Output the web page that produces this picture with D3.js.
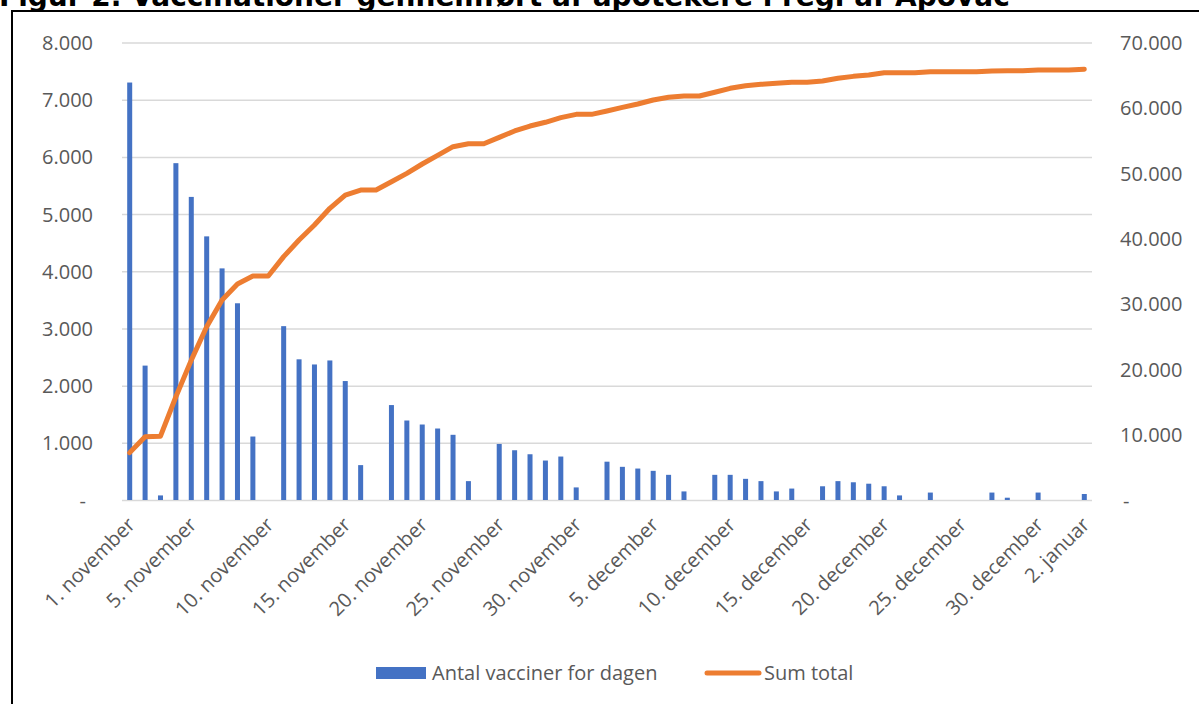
<!DOCTYPE html>
<html>
<head>
<meta charset="utf-8">
<script src="https://cdn.jsdelivr.net/npm/d3@7"></script>
<style>
  body { margin: 0; background: #fff; }
  svg { display: block; }
  .tick text { font-family: "Open Sans", sans-serif; fill: #595959; }
</style>
</head>
<body>
<svg id="chart" width="1199" height="704"></svg>
<script>
// one entry per day, 1. november to 2. januar
const days = [
  "1. november", "2. november", "3. november", "4. november", "5. november",
  "6. november", "7. november", "8. november", "9. november", "10. november",
  "11. november", "12. november", "13. november", "14. november", "15. november",
  "16. november", "17. november", "18. november", "19. november", "20. november",
  "21. november", "22. november", "23. november", "24. november", "25. november",
  "26. november", "27. november", "28. november", "29. november", "30. november",
  "1. december", "2. december", "3. december", "4. december", "5. december",
  "6. december", "7. december", "8. december", "9. december", "10. december",
  "11. december", "12. december", "13. december", "14. december", "15. december",
  "16. december", "17. december", "18. december", "19. december", "20. december",
  "21. december", "22. december", "23. december", "24. december", "25. december",
  "26. december", "27. december", "28. december", "29. december", "30. december",
  "31. december", "1. januar", "2. januar"
];

const tickLabels = [
  "1. november", "5. november", "10. november", "15. november", "20. november",
  "25. november", "30. november", "5. december", "10. december", "15. december",
  "20. december", "25. december", "30. december", "2. januar"
];

// Antal vacciner for dagen (left axis)
const dailyVaccines = [
  7300, 2350, 80, 5890, 5300, 4610, 4050, 3440, 1110, 0,
  3040, 2460, 2370, 2440, 2080, 610, 0, 1660, 1390, 1320,
  1250, 1140, 330, 0, 980, 870, 800, 690, 760, 220,
  0, 670, 580, 550, 510, 440, 150, 0, 440, 440,
  370, 330, 150, 200, 0, 240, 330, 310, 285, 240,
  80, 0, 130, 0, 0, 0, 130, 40, 0, 130,
  0, 0, 105
];

// Sum total (right axis)
const sumTotal = [
  7250, 9690, 9770, 15800, 21400, 26500, 30600, 33050, 34270, 34270,
  37230, 39780, 42070, 44630, 46660, 47430, 47430, 48700, 49980, 51410,
  52740, 54060, 54500, 54500, 55490, 56460, 57220, 57790, 58500, 59010,
  59010, 59520, 60080, 60590, 61200, 61610, 61810, 61810, 62380, 62990,
  63390, 63600, 63750, 63910, 63910, 64110, 64520, 64820, 65020, 65380,
  65380, 65380, 65510, 65510, 65510, 65510, 65640, 65680, 65680, 65810,
  65810, 65810, 65920
];

const leftTicks = [0, 1000, 2000, 3000, 4000, 5000, 6000, 7000, 8000];
const rightTicks = [0, 10000, 20000, 30000, 40000, 50000, 60000, 70000];

const seriesNames = ["Antal vacciner for dagen", "Sum total"];
const colors = ["#4472C4", "#ED7D31"];

const svg = d3.select("#chart");
const plot = { left: 122, right: 1092, top: 42.5, bottom: 500 };

// title, cut at the top edge like the source image
const title = svg.append("text")
  .attr("x", -1)
  .attr("y", 6)
  .attr("font-family", "DejaVu Sans, Verdana, sans-serif")
  .attr("font-weight", "bold")
  .attr("font-size", 22)
  .attr("fill", "#000")
  .text("Figur 2. Vaccinationer gennemført af apotekere i regi af Apovac");
// grow the font until the title spans the same width as the source
const tw = title.node().getComputedTextLength();
title.attr("font-size", 22 * 1011 / tw);

svg.append("path")
  .attr("d", "M12,706 L12,11 L1201,11")
  .attr("fill", "none")
  .attr("stroke", "#000")
  .attr("stroke-width", 2);

const x = d3.scaleBand()
  .domain(days)
  .range([plot.left, plot.right])
  .paddingInner(0.675)
  .paddingOuter(0.3375);

const yLeft = d3.scaleLinear().domain([0, 8000]).range([plot.bottom, plot.top]);
const yRight = d3.scaleLinear().domain([0, 70000]).range([plot.bottom, plot.top]);

const fmt = d => d === 0 ? "-" : d3.format(",")(d).replace(/,/g, ".");

// gridlines
svg.append("g")
  .attr("transform", `translate(${plot.left},0)`)
  .call(d3.axisLeft(yLeft).tickValues(leftTicks).tickSize(-(plot.right - plot.left)).tickFormat(""))
  .call(g => g.select(".domain").remove())
  .call(g => g.selectAll("line").attr("stroke", "#D9D9D9").attr("stroke-width", 1.5));

// left labels
const leftAxis = svg.append("g")
  .attr("transform", `translate(93,0)`)
  .call(d3.axisLeft(yLeft).tickValues(leftTicks).tickSize(0).tickPadding(0).tickFormat(fmt))
  .call(g => g.select(".domain").remove());
leftAxis.selectAll("text").attr("font-size", 20).attr("dy", "0.35em");
leftAxis.selectAll(".tick").filter(d => d === 0).select("text").attr("x", -7);

// right labels
const rightAxis = svg.append("g")
  .attr("transform", `translate(1120,0)`)
  .call(d3.axisRight(yRight).tickValues(rightTicks).tickSize(0).tickPadding(0).tickFormat(fmt))
  .call(g => g.select(".domain").remove());
rightAxis.selectAll("text").attr("font-size", 20).attr("dy", "0.35em");
rightAxis.selectAll(".tick").filter(d => d === 0).select("text").attr("x", 3);

// bars
svg.append("g")
  .selectAll("rect")
  .data(dailyVaccines)
  .join("rect")
  .attr("x", (d, i) => x(days[i]))
  .attr("y", d => yLeft(d))
  .attr("width", x.bandwidth())
  .attr("height", d => plot.bottom - yLeft(d))
  .attr("fill", colors[0]);

// cumulative line
const line = d3.line()
  .x((d, i) => x(days[i]) + x.bandwidth() / 2)
  .y(d => yRight(d));

svg.append("path")
  .datum(sumTotal)
  .attr("d", line)
  .attr("fill", "none")
  .attr("stroke", colors[1])
  .attr("stroke-width", 5)
  .attr("stroke-linejoin", "round")
  .attr("stroke-linecap", "round");

// x axis labels
const xAxis = svg.append("g")
  .attr("transform", `translate(${x.bandwidth() / 2},${plot.bottom})`)
  .call(d3.axisBottom(x).tickValues(tickLabels).tickSize(0).tickFormat(d => d))
  .call(g => g.select(".domain").remove());
xAxis.selectAll("text")
  .attr("font-size", 20)
  .attr("text-anchor", "end")
  .attr("dy", null)
  .attr("y", 0)
  .attr("transform", "translate(4,26) rotate(-45)");

// legend
const legend = svg.append("g")
  .attr("font-family", "Open Sans, sans-serif")
  .attr("font-size", 20)
  .attr("fill", "#595959");

legend.append("rect")
  .attr("x", 376).attr("y", 667).attr("width", 50).attr("height", 12)
  .attr("fill", colors[0]);
legend.append("text")
  .attr("x", 432).attr("y", 673).attr("dy", "0.35em")
  .text(seriesNames[0]);

legend.append("line")
  .attr("x1", 707).attr("x2", 759).attr("y1", 673).attr("y2", 673)
  .attr("stroke", colors[1]).attr("stroke-width", 5).attr("stroke-linecap", "round");
legend.append("text")
  .attr("x", 764).attr("y", 673).attr("dy", "0.35em")
  .text(seriesNames[1]);
</script>
</body>
</html>
